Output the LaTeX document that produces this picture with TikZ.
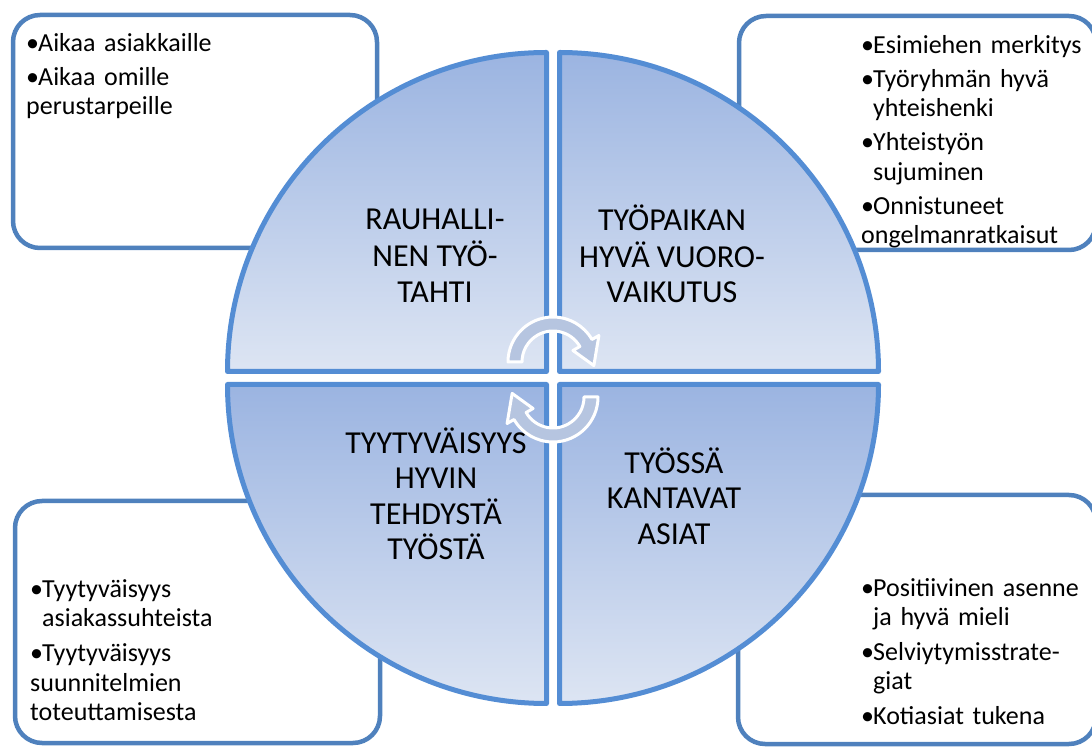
\documentclass[tikz,border=0pt]{standalone}
\usepackage{fontspec}
\setmainfont{Carlito}
\definecolor{quadline}{RGB}{84,141,212}
\definecolor{boxline}{RGB}{79,129,189}
\definecolor{quadtop}{RGB}{155,180,225}
\definecolor{quadbot}{RGB}{221,229,243}
\definecolor{arrowfill}{RGB}{182,197,224}
\newcommand{\firstitem}[1]{\hangindent=12pt\hangafter=1\noindent\makebox[12pt][l]{•}#1}
\newcommand{\bitem}[1]{\par\hangindent=12pt\hangafter=1\noindent\makebox[12pt][l]{•}#1}
\newcommand{\boxsetup}[1]{\setlength\parskip{#1}\setlength\parfillskip{0pt plus 1fil}\setlength\rightskip{0pt plus 1fil}}
\tikzset{
  cycarrow/.pic={
    \path[draw=white, line width=3pt, fill=arrowfill, line join=round]
      (180:31) -- (180:45) arc[start angle=180, end angle=30, radius=45]
      -- (30:53) -- (-5:41) -- (30:23) -- (30:31)
      arc[start angle=30, end angle=180, radius=31] -- cycle;
  }
}
\begin{document}
\begin{tikzpicture}[x=1pt,y=1pt,
  infobox/.style={draw=boxline, line width=4.5pt, fill=white, rounded corners=27pt, inner sep=0pt},
  quad/.style={draw=quadline, line width=5pt, line join=round, top color=quadtop, bottom color=quadbot},
  qlabel/.style={font=\fontsize{32}{35.5}\selectfont, align=center, inner sep=0pt},
  bullets/.style={font=\fontsize{26}{29.5}\selectfont, text width=260pt, align=left, inner sep=0pt, anchor=north west},
]
\useasboundingbox (0,0) rectangle (1092,747);

% corner boxes
\node[infobox, minimum width=364pt, minimum height=233pt] (tlbox) at (195,615.5) {};
\node[infobox, minimum width=357pt, minimum height=234pt] (trbox) at (917.5,614) {};
\node[infobox, minimum width=365pt, minimum height=242pt] (blbox) at (197.5,125) {};
\node[infobox, minimum width=358pt, minimum height=249pt] (brbox) at (917,127.5) {};

% quadrants
\path[quad] (546.5,375.5) -- (227.5,375.5) arc[start angle=180, end angle=90, radius=319] -- cycle;
\path[quad] (559.5,375.5) -- (559.5,694.5) arc[start angle=90, end angle=0, radius=319] -- cycle;
\path[quad] (546.5,362.5) -- (546.5,43.5) arc[start angle=270, end angle=180, radius=319] -- cycle;
\path[quad] (559.5,362.5) -- (878.5,362.5) arc[start angle=0, end angle=-90, radius=319] -- cycle;

% quadrant labels
\node[qlabel] (tllabel) at (435,488) {\strut RAUHALLI-\\NEN TYÖ-\\TAHTI\strut};
\node[qlabel] (trlabel) at (672,488) {\strut TYÖPAIKAN\\HYVÄ VUORO-\\VAIKUTUS\strut};
\node[qlabel] (bllabel) at (436,248) {\strut TYYTYVÄISYYS\\HYVIN\\TEHDYSTÄ\\TYÖSTÄ\strut};
\node[qlabel] (brlabel) at (674,246) {\strut TYÖSSÄ\\KANTAVAT\\ASIAT\strut};

% box texts
\node[bullets] (tltext) at (26,716.6) {\boxsetup{4.5pt}%
  \firstitem{\strut Aikaa asiakkaille}%
  \bitem{Aikaa omille\newline perustarpeille}};
\node[bullets] (trtext) at (861,714.6) {\boxsetup{4.5pt}%
  \firstitem{\strut Esimiehen merkitys}%
  \bitem{Työryhmän hyvä\newline yhteishenki}%
  \bitem{Yhteistyön\newline sujuminen}%
  \bitem{Onnistuneet\newline ongelmanratkaisut}};
\node[bullets] (bltext) at (30,170.6) {\boxsetup{5.5pt}%
  \firstitem{\strut Tyytyväisyys\newline asiakassuhteista}%
  \bitem{Tyytyväisyys\newline suunnitelmien\newline toteuttamisesta}};
\node[bullets] (brtext) at (861,171.6) {\boxsetup{5pt}%
  \firstitem{\strut Positiivinen asenne\newline ja hyvä mieli}%
  \bitem{Selviytymisstrate-\newline giat}%
  \bitem{Kotiasiat tukena}};

% cycle arrows
\pic at (553,385) {cycarrow};
\pic[rotate=180] at (553,350) {cycarrow};
\end{tikzpicture}
\end{document}
